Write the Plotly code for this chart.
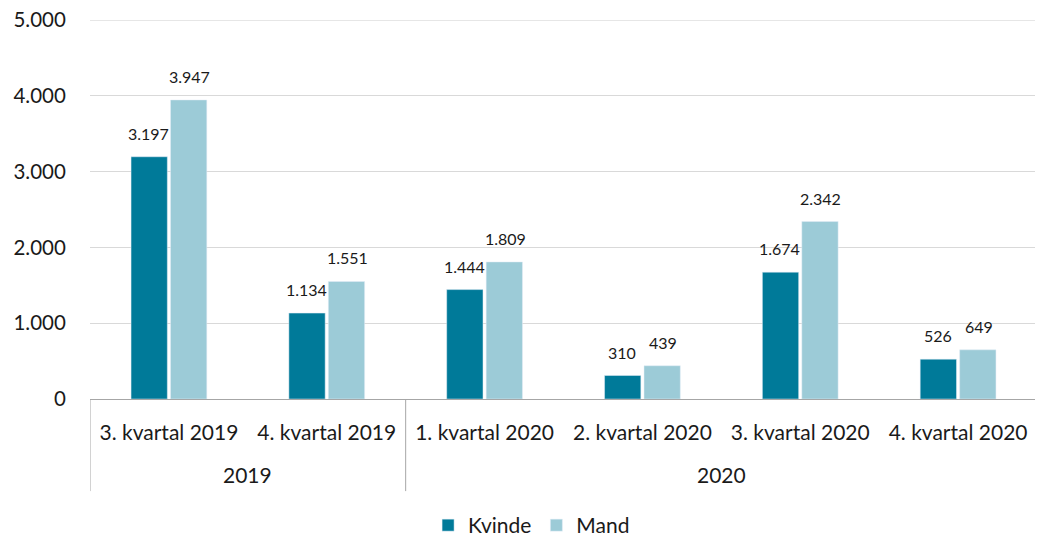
import plotly.graph_objects as go

quarters = ["3. kvartal 2019", "4. kvartal 2019", "1. kvartal 2020",
            "2. kvartal 2020", "3. kvartal 2020", "4. kvartal 2020"]
years = ["2019", "2020"]
year_spans = [(0, 1), (2, 5)]
kvinde = [3197, 1134, 1444, 310, 1674, 526]
mand = [3947, 1551, 1809, 439, 2342, 649]
y_ticks = [0, 1000, 2000, 3000, 4000, 5000]

C_DARK = "#007A99"
C_LIGHT = "#9CCBD7"
FONT = "Lato"
TXT = "#1a1a1a"
idx = list(range(len(quarters)))

fig = go.Figure()
fig.add_trace(go.Bar(x=idx, y=kvinde, name="Kvinde", marker_color=C_DARK))
fig.add_trace(go.Bar(x=idx, y=mand, name="Mand", marker_color=C_LIGHT))

# data labels
for series, shift in [(kvinde, -20.5), (mand, 20.5)]:
    for i, v in zip(idx, series):
        fig.add_annotation(x=i, y=v, xref="x", yref="y", text=f"{v:,}".replace(",", "."),
                           showarrow=False, xshift=shift, yshift=12, yanchor="bottom",
                           font=dict(size=16, color=TXT, family=FONT))

# top gridline (Plotly drops gridlines sitting on the plot edge)
fig.add_shape(type="line", xref="paper", yref="y", x0=0, x1=1, y0=y_ticks[-1], y1=y_ticks[-1],
              line=dict(color="#D9D9D9", width=1), layer="below")

# axis separators (group boundaries)
for b in [-0.5, 1.5, 5.5]:
    fig.add_shape(type="line", xref="x", yref="paper", x0=b, x1=b, y0=0, y1=-0.243,
                  line=dict(color="#A6A6A6", width=1))
for yr, (a, b) in zip(years, year_spans):
    fig.add_annotation(x=(a + b) / 2, xref="x", y=-0.198, yref="paper", text=yr,
                       showarrow=False, yanchor="middle",
                       font=dict(size=21, color=TXT, family=FONT))

fig.update_layout(
    width=1043, height=538,
    margin=dict(l=82, r=14, t=12, b=147, autoexpand=False),
    plot_bgcolor="white", paper_bgcolor="white",
    separators=",.",
    barmode="group", bargap=0.5, bargroupgap=0.08,
    font=dict(family=FONT, size=20, color=TXT),
    showlegend=True,
    legend=dict(orientation="h", xref="container", yref="container",
                x=0.502, xanchor="center", y=0.0, yanchor="bottom",
                font=dict(size=21, family=FONT, color=TXT), itemwidth=30,
                traceorder="normal"),
    xaxis=dict(tickmode="array", tickvals=idx, ticktext=quarters, range=[-0.5, 5.5],
               automargin=False,
               showline=True, linecolor="#A6A6A6", linewidth=1, showgrid=False,
               ticks="outside", ticklen=15, tickcolor="rgba(0,0,0,0)",
               tickfont=dict(size=21, family=FONT, color=TXT)),
    yaxis=dict(range=[0, 5002], tickvals=y_ticks, tickformat=",d", automargin=False,
               ticklabeloverflow="allow",
               showgrid=True, gridcolor="#D9D9D9", gridwidth=1, zeroline=False,
               showline=False, ticks="outside", ticklen=19, tickcolor="rgba(0,0,0,0)",
               tickfont=dict(size=20.5, family=FONT, color=TXT)),
)

fig.write_html("out.html")
